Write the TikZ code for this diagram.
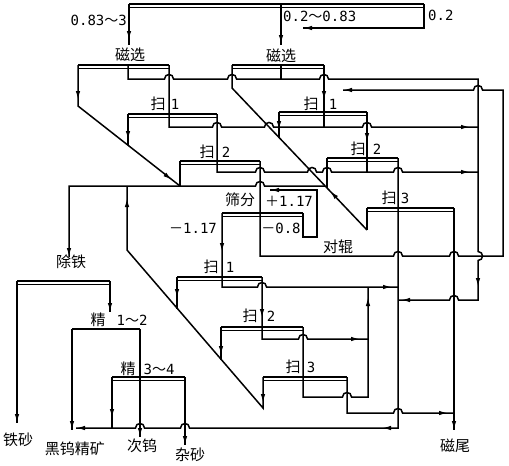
\documentclass[tikz,border=0pt]{standalone}
\usepackage{fontspec}
\setmainfont{DejaVu Sans Mono}
\newfontfamily\cjk{Noto Sans CJK SC}
\usetikzlibrary{arrows.meta}
\newcommand\flbar[3]{\draw[barT] (#1,#3) -- (#2,#3); \draw[barB] (#1,{#3+3.5}) -- (#2,{#3+3.5});}
\newcommand\hpR[2]{-- ({#1-4.5},#2) .. controls ({#1-4.5},{#2-6}) and ({#1+4.5},{#2-6}) .. ({#1+4.5},#2)}
\newcommand\hpL[2]{-- ({#1+4.5},#2) .. controls ({#1+4.5},{#2-6}) and ({#1-4.5},{#2-6}) .. ({#1-4.5},#2)}
\newcommand\hpD[2]{-- (#1,{#2-4.5}) .. controls ({#1+6},{#2-4.5}) and ({#1+6},{#2+4.5}) .. (#1,{#2+4.5})}
\newcommand\aD[2]{\draw[ar] (#1,{#2-9}) -- (#1,#2);}
\newcommand\aU[2]{\draw[ar] (#1,{#2+9}) -- (#1,#2);}
\newcommand\aR[2]{\draw[ar] ({#1-9},#2) -- (#1,#2);}
\newcommand\aL[2]{\draw[ar] ({#1+9},#2) -- (#1,#2);}
\begin{document}
\begin{tikzpicture}[x=1pt,y=-1pt,
  fl/.style={line width=1.5pt},
  barT/.style={line width=2.6pt},
  barB/.style={line width=0.9pt},
  ar/.style={line width=1.5pt,-{Latex[length=9pt,width=4.5pt]}},
  nm/.style={font=\fontsize{14}{14}\selectfont,inner sep=0pt,text height=10.5pt,text depth=0pt},
  cn/.style={font=\cjk\fontsize{15}{15}\selectfont,inner sep=0pt,text height=10.5pt,text depth=0pt}]
\useasboundingbox (0,0) rectangle (509,466);
% ---------- top screen ----------
\flbar{129}{424}{4}
\draw[fl] (129,4) -- (129,45); \aD{129}{40}
\draw[fl] (281,4) -- (281,45); \aD{281}{44}
\draw[fl] (424,4) -- (424,28) -- (303,28); \aL{303}{28}
\node[nm,anchor=east] (t1) at (127,20) {0.83{\cjk ～}3};
\node[nm,anchor=west] (t2) at (283,16) {0.2{\cjk ～}0.83};
\node[nm,anchor=west] (t3) at (428,15) {0.2};
% ---------- magnetic separation ----------
\node[cn] (cxL) at (130,55) {磁选};
\node[cn] (cxR) at (281,56) {磁选};
\flbar{78}{169}{65}
\flbar{232}{324}{65}
\draw[fl] (78,65) -- (78,106) -- (180,186); \aD{78}{100}
\draw[ar] (165,174.5) -- (172,180);
\draw[fl] (128,65) -- (128,79) \hpR{169}{79} \hpR{232}{79} \hpR{324}{79} -- (478,79)
   \hpD{478}{256} -- (478,300) \hpL{454}{300} -- (398,300);
\aD{478}{287} \aL{401}{300}
\draw[fl] (281,65) -- (281,79);
\draw[fl] (232,65) -- (232,88) -- (367,230);
\draw[ar] (336.2,197.5) -- (330,191);
% ---------- upper scavengers ----------
\node[cn] (s1a) at (158,104) {扫};  \node[nm] (s1b) at (175,104) {1};
\node[cn] (s2a) at (311,104) {扫};  \node[nm] (s2b) at (333,104) {1};
\node[cn] (s3a) at (207,152) {扫};  \node[nm] (s3b) at (226,152) {2};
\node[cn] (s4a) at (358,149) {扫};  \node[nm] (s4b) at (377,149) {2};
\node[cn] (s5a) at (389,198) {扫};  \node[nm] (s5b) at (405,198) {3};
\draw[fl] (169,65) -- (169,127) \hpR{217}{127} \hpR{269}{127} \hpR{367}{127} -- (478,127);
\aR{470}{127}
\draw[fl] (324,65) -- (324,127); \aD{324}{100}
\flbar{128}{217}{114}
\draw[fl] (128,114) -- (128,145); \aD{128}{140}
\draw[fl] (217,114) -- (217,172) \hpR{260}{172} \hpR{312}{172} \hpR{327}{172} \hpR{398}{172} -- (478,172);
\aR{470}{172}
\flbar{279}{367}{112}
\draw[fl] (279,112) -- (279,137.5); \aD{279}{130}
\draw[fl] (367,112) -- (367,172); \aD{367}{142}
\flbar{180}{260}{161}
\draw[fl] (180,161) -- (180,186);
\draw[fl] (260,161) -- (260,256) \hpR{398}{256} \hpR{454}{256} -- (503,256) -- (503,90) \hpL{478}{90} -- (343,90);
\aL{343}{90}
\flbar{327}{398}{158}
\draw[fl] (327,158) -- (327,188);
\draw[fl] (398,158) -- (398,428) \hpL{185}{428} \hpL{140}{428} -- (76,428);
\aL{76}{428} \aL{382}{428}
\flbar{367}{454}{208}
\draw[fl] (367,208) -- (367,230);
\draw[fl] (454,208) -- (454,430); \aD{454}{430}
% ---------- screening ----------
\node[cn] (sf) at (240,200) {筛分};
\node[nm] (p117) at (289,201) {{\cjk ＋}1.17};
\node[nm] (m117) at (193,228) {{\cjk －}1.17};
\node[nm] (m08) at (281,228) {{\cjk －}0.8};
\node[cn] (dg) at (338,247) {对辊};
\flbar{222}{303}{213}
\draw[fl] (303,213) -- (303,237) -- (317,237) -- (317,190) -- (270,190); \aL{270}{190}
\draw[fl] (325,186) \hpL{260}{186} -- (69,186) -- (69,257); \aD{69}{257}
% ---------- lower scavengers ----------
\node[cn] (l1a) at (211,267) {扫};  \node[nm] (l1b) at (230,267) {1};
\node[cn] (l2a) at (250,316) {扫};  \node[nm] (l2b) at (271,316) {2};
\node[cn] (l3a) at (293,367) {扫};  \node[nm] (l3b) at (311,367) {3};
\draw[fl] (222,213) -- (222,287) \hpR{262}{287} -- (398,287); \aD{222}{252} \aR{392}{287}
\flbar{177}{262}{277}
\draw[fl] (177,277) -- (177,309); \aD{177}{298}
\draw[fl] (262,277) -- (262,339) \hpR{303}{339} -- (368,339); \aD{262}{318} \aR{360}{339}
\flbar{221}{303}{327}
\draw[fl] (221,327) -- (221,360); \aD{221}{355}
\draw[fl] (303,327) -- (303,397) \hpR{347}{397} -- (368,397) -- (368,287); \aU{368}{297}
\flbar{263}{347}{377}
\draw[fl] (263,377) -- (263,408) -- (127,250) -- (127,186); \aD{263}{403} \aU{127}{198}
\draw[fl] (347,377) -- (347,413) \hpR{398}{413} -- (454,413); \aR{448}{413}
% ---------- iron removal and cleaning ----------
\node[cn] (cf) at (71,262) {除铁};
\node[cn] (j1a) at (98,320) {精};  \node[nm] (j1b) at (132,320) {1{\cjk ～}2};
\node[cn] (j2a) at (128,369) {精};  \node[nm] (j2b) at (159,369) {3{\cjk ～}4};
\flbar{17}{110}{281}
\draw[fl] (17,281) -- (17,423); \aD{17}{423}
\draw[fl] (110,281) -- (110,312); \aD{110}{312}
\draw[barT] (72,329) -- (140,329);
\draw[fl] (72,329) -- (72,430); \aD{72}{430}
\draw[fl] (140,329) -- (140,437); \aD{140}{437}
\flbar{112}{185}{377}
\draw[fl] (112,377) -- (112,428); \aD{112}{418}
\draw[fl] (185,377) -- (185,445); \aD{185}{445}
% ---------- products ----------
\node[cn] (p1) at (18,440) {铁砂};
\node[cn] (p2) at (75,449) {黑钨精矿};
\node[cn] (p3) at (142,446) {次钨};
\node[cn] (p4) at (190,455) {杂砂};
\node[cn] (p5) at (455,446) {磁尾};
\end{tikzpicture}
\end{document}
